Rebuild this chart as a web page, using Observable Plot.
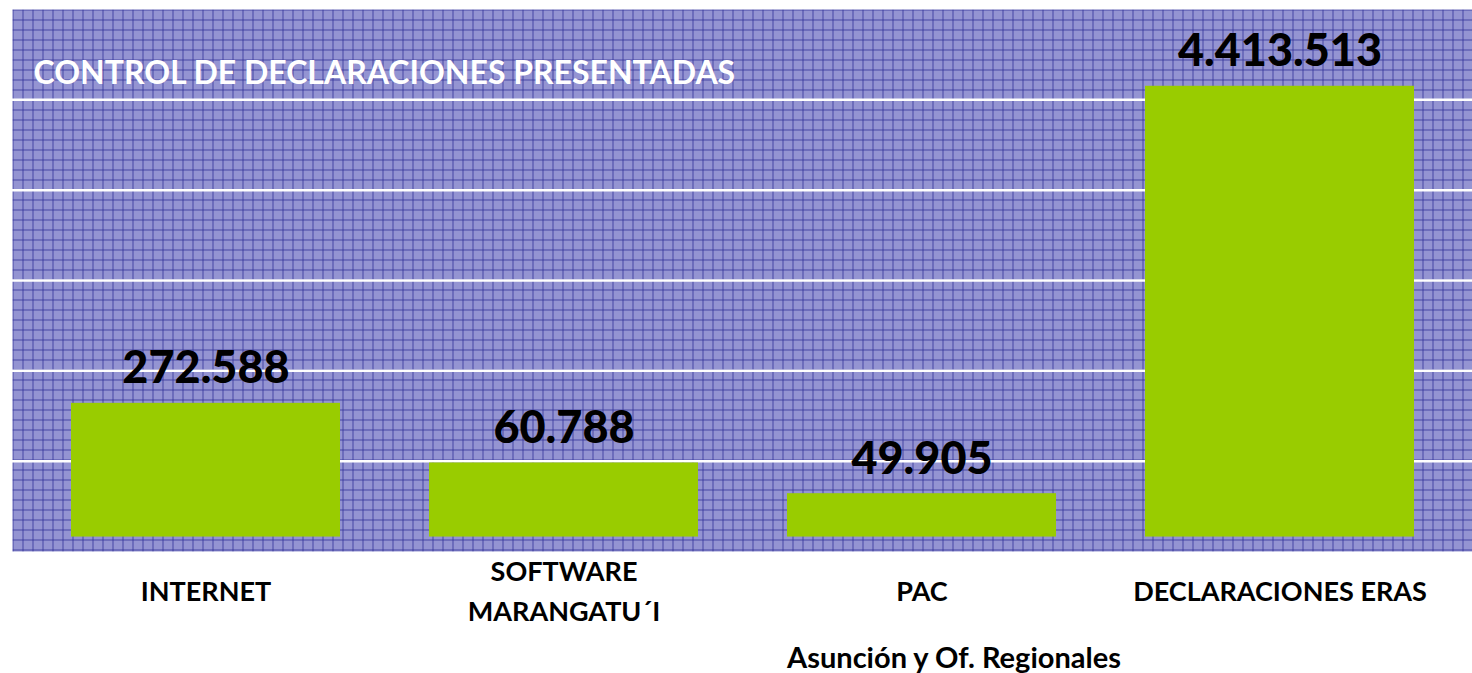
<!DOCTYPE html>
<html>
<head>
<meta charset="utf-8">
<script src="https://cdn.jsdelivr.net/npm/d3@7"></script>
<script src="https://cdn.jsdelivr.net/npm/@observablehq/plot@0.6"></script>
<style>
  html, body { margin: 0; padding: 0; background: #ffffff; }
  #chart svg { display: block; }
</style>
</head>
<body>
<div id="chart"></div>
<script>
// ---- data ----
const titleText = "CONTROL DE DECLARACIONES PRESENTADAS";
const categories = ["INTERNET", "SOFTWARE", "PAC", "DECLARACIONES ERAS"];
const categoryLabels = ["INTERNET", "SOFTWARE\nMARANGATU´I", "PAC", "DECLARACIONES ERAS"];
const declaraciones = [272588, 60788, 49905, 4413513];
// bar heights as drawn in the original (not to scale), in gridline units
const drawnBarTop = [1.64, 0.98, 0.64, 5.15];
const drawnBarBase = 0.16;
const gridLevels = [1, 2, 3, 4, 5];
const captionText = "Asunción y Of. Regionales";

const rows = categories.map((c, i) => ({
  cat: c,
  label: categoryLabels[i],
  value: declaraciones[i],
  top: drawnBarTop[i]
}));

const esFormat = d3.formatLocale({decimal: ",", thousands: ".", grouping: [3], currency: ["", ""]}).format(",d");

const FONT = "Lato, 'Open Sans', sans-serif";

const chart = Plot.plot({
  width: 1472,
  height: 673,
  marginTop: 9,
  marginBottom: 122,
  marginLeft: 12,
  marginRight: 0,
  style: {fontFamily: FONT, background: "transparent", overflow: "visible"},
  x: {domain: categories, paddingInner: 0.25, paddingOuter: 0.163, axis: null},
  y: {domain: [0, 6], axis: null},
  marks: [
    Plot.frame({fill: "url(#hatchbg)", stroke: "none"}),
    Plot.ruleY(gridLevels, {stroke: "#ffffff", strokeWidth: 2.5}),
    Plot.rectY(rows, {x: "cat", y1: () => drawnBarBase, y2: "top", fill: "#99cc00"}),
    Plot.text(rows, {
      x: "cat", y: "top", text: d => esFormat(d.value),
      dy: -20, lineAnchor: "bottom", fontSize: 45, fontWeight: 900, fill: "#000000"
    }),
    Plot.text([titleText], {
      frameAnchor: "top-left", text: d => d, dx: 21, dy: 52, lineAnchor: "top",
      textAnchor: "start", fontSize: 32, fontWeight: "bold", fill: "#ffffff"
    }),
    Plot.text(rows, {
      x: "cat", frameAnchor: "bottom", text: "label", dy: 37, lineAnchor: "middle",
      lineHeight: 1.45, fontSize: 27, fontWeight: "bold", fill: "#000000"
    }),
    Plot.text([captionText], {
      x: () => "PAC", frameAnchor: "bottom", text: d => d, dx: 32, dy: 107, lineAnchor: "middle",
      fontSize: 29, fontWeight: "bold", fill: "#000000"
    })
  ]
});

// hatched background pattern
const svg = d3.select(chart);
const defs = svg.insert("defs", ":first-child");
const pat = defs.append("pattern")
  .attr("id", "hatchbg").attr("patternUnits", "userSpaceOnUse")
  .attr("width", 10).attr("height", 10).attr("x", 12).attr("y", 9);
pat.append("rect").attr("width", 10).attr("height", 10).attr("fill", "#a6a6dc");
for (let i = 0; i < 10; i++) {
  for (let j = 0; j < 10; j++) {
    if ((i + j) % 2 === 0) {
      pat.append("rect").attr("x", i).attr("y", j).attr("width", 1).attr("height", 1).attr("fill", "#8282c8");
    }
  }
}
pat.append("rect").attr("x", 0).attr("y", 0).attr("width", 1).attr("height", 10).attr("fill", "#4646a4");
pat.append("rect").attr("x", 0).attr("y", 0).attr("width", 10).attr("height", 1).attr("fill", "#4646a4");

document.getElementById("chart").appendChild(chart);
</script>
</body>
</html>
